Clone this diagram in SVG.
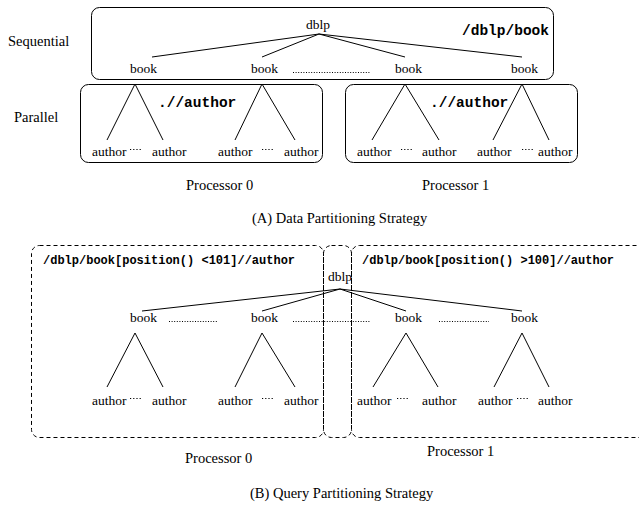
<svg xmlns="http://www.w3.org/2000/svg" width="639" height="506" viewBox="0 0 639 506">
<style>
.n{font-family:"Liberation Serif","Times New Roman",serif;font-size:13.5px;fill:#000}
.l{font-family:"Liberation Serif","Times New Roman",serif;font-size:14.5px;fill:#000}
.q{font-family:"Liberation Mono","Courier New",monospace;font-weight:bold;font-size:14.5px;fill:#000}
.qs{font-family:"Liberation Mono","Courier New",monospace;font-weight:bold;font-size:12px;fill:#000}
.box{fill:none;stroke:#000;stroke-width:1}
.dbox{fill:none;stroke:#000;stroke-width:1;stroke-dasharray:4 3}
.e{stroke:#000;stroke-width:1;fill:none}
.dot{stroke:#000;stroke-width:1;stroke-dasharray:1 1.6;fill:none}
.sdot{stroke:#000;stroke-width:1;stroke-dasharray:1.2 2;fill:none}
</style>
<rect width="639" height="506" fill="#fff"/>

<!-- (A) Data Partitioning -->
<g id="labelsA">
<text class="l" x="8" y="46">Sequential</text>
<text class="l" x="14" y="122">Parallel</text>
<text class="l" x="186" y="190">Processor 0</text>
<text class="l" x="422" y="190">Processor 1</text>
<text class="l" x="252" y="223">(A) Data Partitioning Strategy</text>
</g>
<g id="seqBox">
<rect class="box" x="91.5" y="7.5" width="462" height="72" rx="8"/>
<text class="q" x="462" y="35">/dblp/book</text>
</g>
<g id="par0">
<rect class="box" x="80.5" y="84.5" width="242" height="78" rx="8"/>
<text class="q" x="158" y="107">.//author</text>
</g>
<g id="par1">
<rect class="box" x="345.5" y="84.5" width="232" height="78" rx="8"/>
<text class="q" x="430" y="107">.//author</text>
</g>
<g id="A-dblp"><text class="n" x="318" y="29" text-anchor="middle">dblp</text></g>
<g id="A-books">
<text class="n" x="130" y="73">book</text>
<text class="n" x="251" y="73">book</text>
<text class="n" x="395" y="73">book</text>
<text class="n" x="511" y="73">book</text>
</g>
<g id="A-authors">
<text class="n" x="92" y="156">author</text>
<text class="n" x="152" y="156">author</text>
<text class="n" x="218" y="156">author</text>
<text class="n" x="284" y="156">author</text>
<text class="n" x="357" y="156">author</text>
<text class="n" x="422" y="156">author</text>
<text class="n" x="477" y="156">author</text>
<text class="n" x="538" y="156">author</text>
</g>
<g id="A-connectors">
<path class="e" d="M319,34 L152,57 M319,34 L262,57 M319,34 L405,57 M319,34 L522,57"/>
<path class="e" d="M135,84 L107,140 M135,84 L163,140 M262,84 L235,140 M262,84 L295,140"/>
<path class="e" d="M405,84 L372,140 M405,84 L439,140 M522,84 L493,140 M522,84 L549,140"/>
<path class="dot" d="M293,72.5 H370"/>
<path class="sdot" d="M130,149.5 h12 M262,149.5 h12 M401,149.5 h12 M522,149.5 h12"/>
</g>

<!-- (B) Query Partitioning -->
<g id="procBox0">
<rect class="dbox" x="31.5" y="245.5" width="292" height="192" rx="8"/>
<text class="qs" x="43" y="264">/dblp/book[position() &lt;101]//author</text>
</g>
<g id="procBox1">
<rect class="dbox" x="351.5" y="245.5" width="330" height="192" rx="8"/>
<text class="qs" x="362" y="264">/dblp/book[position() &gt;100]//author</text>
</g>
<g id="rootBox">
<rect class="dbox" x="323.5" y="245.5" width="28" height="192" rx="8"/>
</g>
<g id="B-dblp"><text class="n" x="328" y="281">dblp</text></g>
<g id="B-books">
<text class="n" x="130" y="322">book</text>
<text class="n" x="251" y="322">book</text>
<text class="n" x="395" y="322">book</text>
<text class="n" x="511" y="322">book</text>
</g>
<g id="B-authors">
<text class="n" x="92" y="405">author</text>
<text class="n" x="152" y="405">author</text>
<text class="n" x="218" y="405">author</text>
<text class="n" x="284" y="405">author</text>
<text class="n" x="357" y="405">author</text>
<text class="n" x="422" y="405">author</text>
<text class="n" x="478" y="405">author</text>
<text class="n" x="538" y="405">author</text>
</g>
<g id="B-connectors">
<path class="e" d="M340,289 L142,311 M340,289 L262,311 M340,289 L406,311 M340,289 L522,311"/>
<path class="e" d="M135,333 L107,387 M135,333 L163,387 M262,333 L235,387 M262,333 L295,387"/>
<path class="e" d="M406,333 L373,387 M406,333 L438,387 M522,333 L494,387 M522,333 L549,387"/>
<path class="dot" d="M169,321.5 H218 M293,321.5 H370 M439,321.5 H489"/>
<path class="sdot" d="M130,398.5 h12 M262,398.5 h12 M397,398.5 h12 M517,398.5 h12"/>
</g>
<g id="labelsB">
<text class="l" x="185" y="463">Processor 0</text>
<text class="l" x="427" y="456">Processor 1</text>
<text class="l" x="250" y="498">(B) Query Partitioning Strategy</text>
</g>
</svg>
